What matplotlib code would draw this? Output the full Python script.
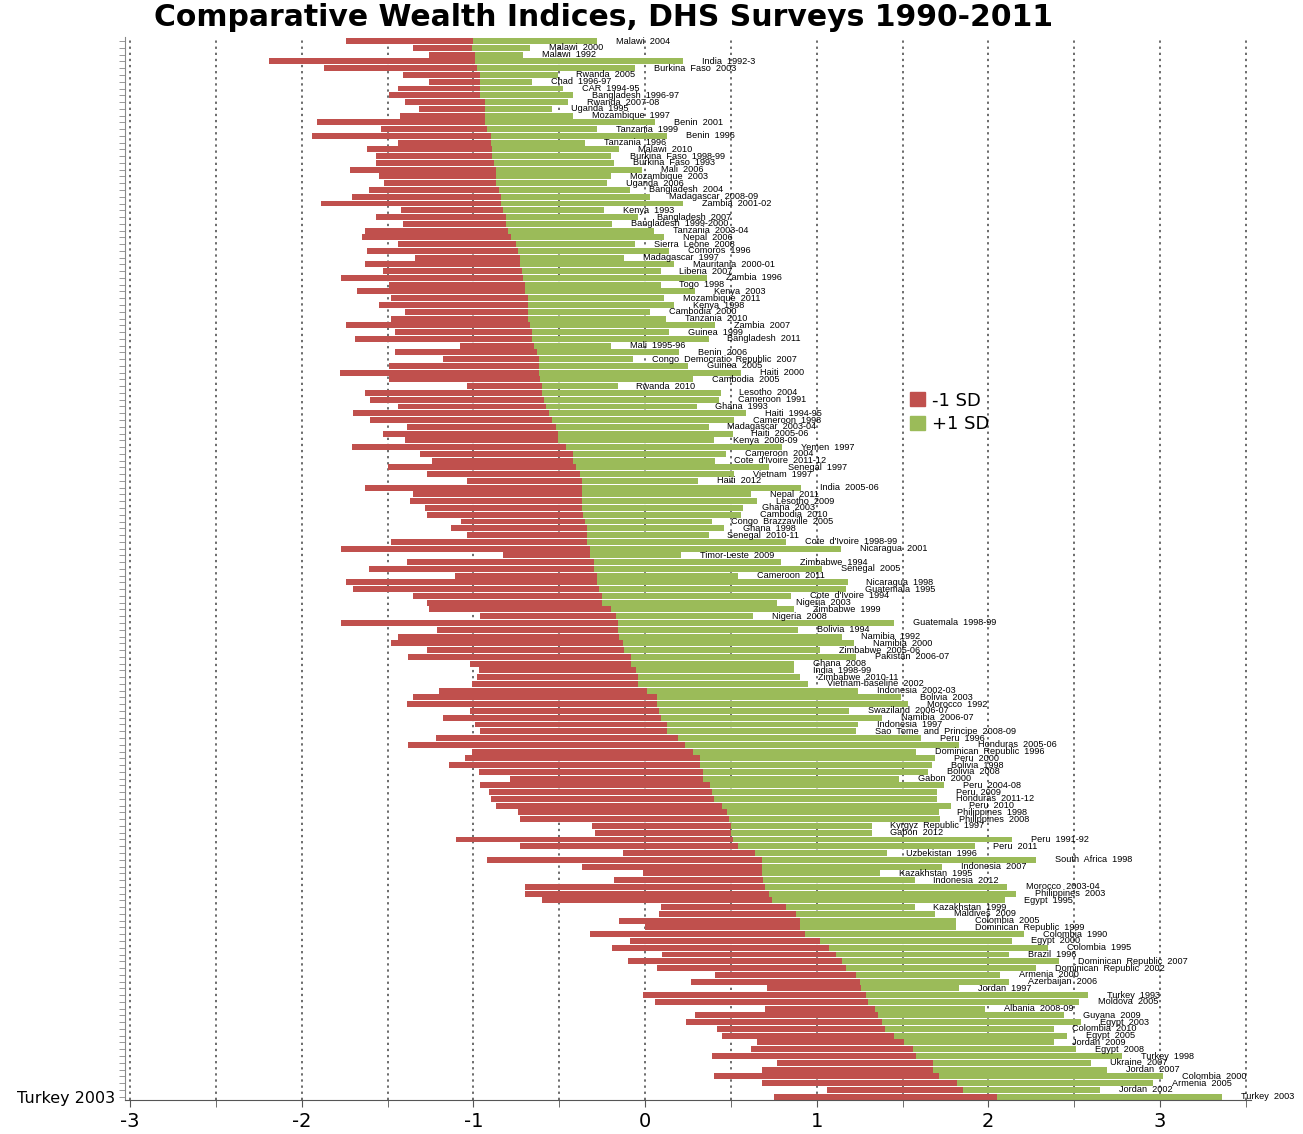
import numpy as np
import matplotlib
matplotlib.use('Agg')
import matplotlib.pyplot as plt
from matplotlib.patches import Patch

surveys = [
    'Malawi 2004', 'Malawi 2000', 'Malawi 1992', 'India 1992-3', 'Burkina Faso 2003',
    'Rwanda 2005', 'Chad 1996-97', 'CAR 1994-95', 'Bangladesh 1996-97', 'Rwanda 2007-08',
    'Uganda 1995', 'Mozambique 1997', 'Benin 2001', 'Tanzania 1999', 'Benin 1996',
    'Tanzania 1996', 'Malawi 2010', 'Burkina Faso 1998-99', 'Burkina Faso 1993', 'Mali 2006',
    'Mozambique 2003', 'Uganda 2006', 'Bangladesh 2004', 'Madagascar 2008-09', 'Zambia 2001-02',
    'Kenya 1993', 'Bangladesh 2007', 'Bangladesh 1999-2000', 'Tanzania 2003-04', 'Nepal 2006',
    'Sierra Leone 2008', 'Comoros 1996', 'Madagascar 1997', 'Mauritania 2000-01', 'Liberia 2007',
    'Zambia 1996', 'Togo 1998', 'Kenya 2003', 'Mozambique 2011', 'Kenya 1998',
    'Cambodia 2000', 'Tanzania 2010', 'Zambia 2007', 'Guinea 1999', 'Bangladesh 2011',
    'Mali 1995-96', 'Benin 2006', 'Congo Democratic Republic 2007', 'Guinea 2005', 'Haiti 2000',
    'Cambodia 2005', 'Rwanda 2010', 'Lesotho 2004', 'Cameroon 1991', 'Ghana 1993',
    'Haiti 1994-95', 'Cameroon 1998', 'Madagascar 2003-04', 'Haiti 2005-06', 'Kenya 2008-09',
    'Yemen 1997', 'Cameroon 2004', "Cote d'Ivoire 2011-12", 'Senegal 1997', 'Vietnam 1997',
    'Haiti 2012', 'India 2005-06', 'Nepal 2011', 'Lesotho 2009', 'Ghana 2003',
    'Cambodia 2010', 'Congo Brazzaville 2005', 'Ghana 1998', 'Senegal 2010-11', "Cote d'Ivoire 1998-99",
    'Nicaragua 2001', 'Timor-Leste 2009', 'Zimbabwe 1994', 'Senegal 2005', 'Cameroon 2011',
    'Nicaragua 1998', 'Guatemala 1995', "Cote d'Ivoire 1994", 'Nigeria 2003', 'Zimbabwe 1999',
    'Nigeria 2008', 'Guatemala 1998-99', 'Bolivia 1994', 'Namibia 1992', 'Namibia 2000',
    'Zimbabwe 2005-06', 'Pakistan 2006-07', 'Ghana 2008', 'India 1998-99', 'Zimbabwe 2010-11',
    'Vietnam-baseline 2002', 'Indonesia 2002-03', 'Bolivia 2003', 'Morocco 1992', 'Swaziland 2006-07',
    'Namibia 2006-07', 'Indonesia 1997', 'Sao Tome and Principe 2008-09', 'Peru 1996', 'Honduras 2005-06',
    'Dominican Republic 1996', 'Peru 2000', 'Bolivia 1998', 'Bolivia 2008', 'Gabon 2000',
    'Peru 2004-08', 'Peru 2009', 'Honduras 2011-12', 'Peru 2010', 'Philippines 1998',
    'Philippines 2008', 'Kyrgyz Republic 1997', 'Gabon 2012', 'Peru 1991-92', 'Peru 2011',
    'Uzbekistan 1996', 'South Africa 1998', 'Indonesia 2007', 'Kazakhstan 1995', 'Indonesia 2012',
    'Morocco 2003-04', 'Philippines 2003', 'Egypt 1995', 'Kazakhstan 1999', 'Maldives 2009',
    'Colombia 2005', 'Dominican Republic 1999', 'Colombia 1990', 'Egypt 2000', 'Colombia 1995',
    'Brazil 1996', 'Dominican Republic 2007', 'Dominican Republic 2002', 'Armenia 2000', 'Azerbaijan 2006',
    'Jordan 1997', 'Turkey 1993', 'Moldova 2005', 'Albania 2008-09', 'Guyana 2009',
    'Egypt 2003', 'Colombia 2010', 'Egypt 2005', 'Jordan 2009', 'Egypt 2008',
    'Turkey 1998', 'Ukraine 2007', 'Jordan 2007', 'Colombia 2000', 'Armenia 2005',
    'Jordan 2002', 'Turkey 2003',
]

minus_sd = [
    -1.74, -1.35, -1.26, -2.19, -1.87, -1.41, -1.26, -1.44, -1.49, -1.40,
    -1.32, -1.43, -1.91, -1.54, -1.94, -1.44, -1.62, -1.57, -1.57, -1.72,
    -1.55, -1.52, -1.61, -1.71, -1.89, -1.42, -1.57, -1.41, -1.63, -1.65,
    -1.44, -1.62, -1.34, -1.63, -1.53, -1.77, -1.49, -1.68, -1.48, -1.55,
    -1.40, -1.48, -1.74, -1.46, -1.69, -1.08, -1.46, -1.18, -1.49, -1.78,
    -1.49, -1.04, -1.63, -1.60, -1.44, -1.70, -1.60, -1.39, -1.53, -1.40,
    -1.71, -1.31, -1.24, -1.50, -1.27, -1.04, -1.63, -1.35, -1.37, -1.28,
    -1.27, -1.07, -1.13, -1.04, -1.48, -1.77, -0.83, -1.39, -1.61, -1.11,
    -1.74, -1.70, -1.35, -1.27, -1.26, -0.96, -1.77, -1.21, -1.44, -1.48,
    -1.27, -1.38, -1.02, -0.97, -0.98, -1.01, -1.20, -1.35, -1.39, -1.02,
    -1.18, -0.99, -0.96, -1.22, -1.38, -1.01, -1.05, -1.14, -0.97, -0.79,
    -0.96, -0.91, -0.90, -0.87, -0.74, -0.73, -0.31, -0.29, -1.10, -0.73,
    -0.13, -0.92, -0.37, -0.01, -0.18, -0.70, -0.70, -0.60, 0.09, 0.08,
    -0.15, 0.00, -0.32, -0.09, -0.19, 0.10, -0.10, 0.07, 0.41, 0.27,
    0.71, -0.01, 0.06, 0.70, 0.29, 0.24, 0.42, 0.45, 0.65, 0.62,
    0.39, 0.77, 0.68, 0.40, 0.68, 1.06, 0.75,
]

mean_val = [
    -1.00, -1.01, -0.99, -0.99, -0.98, -0.96, -0.96, -0.96, -0.96, -0.93,
    -0.93, -0.93, -0.93, -0.92, -0.90, -0.90, -0.89, -0.89, -0.88, -0.87,
    -0.87, -0.87, -0.85, -0.84, -0.84, -0.83, -0.81, -0.81, -0.80, -0.78,
    -0.75, -0.74, -0.73, -0.73, -0.72, -0.71, -0.70, -0.70, -0.68, -0.68,
    -0.68, -0.68, -0.67, -0.66, -0.66, -0.65, -0.63, -0.62, -0.62, -0.62,
    -0.61, -0.60, -0.60, -0.59, -0.58, -0.56, -0.54, -0.52, -0.51, -0.51,
    -0.46, -0.42, -0.42, -0.40, -0.38, -0.37, -0.37, -0.37, -0.37, -0.37,
    -0.36, -0.35, -0.34, -0.34, -0.34, -0.32, -0.32, -0.30, -0.30, -0.28,
    -0.28, -0.27, -0.25, -0.25, -0.20, -0.17, -0.16, -0.16, -0.15, -0.13,
    -0.12, -0.08, -0.08, -0.05, -0.04, -0.04, 0.01, 0.07, 0.07, 0.08,
    0.09, 0.13, 0.13, 0.19, 0.23, 0.28, 0.32, 0.32, 0.34, 0.34,
    0.38, 0.39, 0.40, 0.45, 0.48, 0.49, 0.50, 0.50, 0.51, 0.54,
    0.64, 0.68, 0.68, 0.68, 0.69, 0.70, 0.72, 0.74, 0.82, 0.88,
    0.90, 0.90, 0.93, 1.02, 1.07, 1.11, 1.15, 1.17, 1.23, 1.25,
    1.26, 1.29, 1.30, 1.34, 1.36, 1.38, 1.40, 1.45, 1.51, 1.56,
    1.58, 1.68, 1.68, 1.71, 1.82, 1.85, 2.05,
]

plus_sd = [
    -0.28, -0.67, -0.71, 0.22, -0.06, -0.51, -0.66, -0.48, -0.42, -0.45,
    -0.54, -0.42, 0.06, -0.28, 0.13, -0.35, -0.15, -0.20, -0.18, -0.02,
    -0.20, -0.22, -0.09, 0.03, 0.22, -0.24, -0.04, -0.19, 0.05, 0.11,
    -0.06, 0.14, -0.12, 0.17, 0.09, 0.36, 0.09, 0.29, 0.11, 0.17,
    0.03, 0.12, 0.41, 0.14, 0.37, -0.20, 0.20, -0.07, 0.25, 0.56,
    0.28, -0.16, 0.44, 0.43, 0.30, 0.59, 0.52, 0.37, 0.51, 0.40,
    0.80, 0.47, 0.41, 0.72, 0.52, 0.31, 0.91, 0.62, 0.65, 0.57,
    0.56, 0.39, 0.46, 0.37, 0.82, 1.14, 0.21, 0.79, 1.03, 0.54,
    1.18, 1.17, 0.85, 0.77, 0.87, 0.63, 1.45, 0.89, 1.15, 1.22,
    1.02, 1.23, 0.87, 0.87, 0.90, 0.95, 1.24, 1.49, 1.53, 1.19,
    1.38, 1.24, 1.23, 1.61, 1.83, 1.58, 1.69, 1.67, 1.65, 1.48,
    1.74, 1.70, 1.70, 1.78, 1.71, 1.72, 1.32, 1.32, 2.14, 1.92,
    1.41, 2.28, 1.73, 1.37, 1.57, 2.11, 2.16, 2.10, 1.57, 1.69,
    1.81, 1.81, 2.21, 2.14, 2.35, 2.12, 2.41, 2.28, 2.07, 2.12,
    1.83, 2.58, 2.53, 1.98, 2.44, 2.54, 2.38, 2.46, 2.38, 2.51,
    2.78, 2.60, 2.69, 3.02, 2.96, 2.65, 3.36,
]

red = '#C0504D'
green = '#9BBB59'

minus_sd = np.array(minus_sd)
mean_val = np.array(mean_val)
plus_sd = np.array(plus_sd)
n = len(surveys)
y = np.arange(n)

fig = plt.figure(figsize=(13.03, 11.34), dpi=100)
ax = fig.add_axes([0.096, 0.030, 0.864, 0.937])

ax.barh(y, mean_val - minus_sd, left=minus_sd, height=0.88, color=red, zorder=2)
ax.barh(y, plus_sd - mean_val, left=mean_val, height=0.88, color=green, zorder=2)

# labels sit just right of the +1 SD end
for yi, name, hi in zip(y, surveys, plus_sd):
    ax.text(hi + 0.11, yi, name.replace(' ', '  '), fontsize=6.6, family='Liberation Sans',
            va='center', ha='left', color='black', zorder=3)

ax.set_xlim(-3.03, 3.53)
ax.set_ylim(n - 0.5, -0.55)

ax.set_xticks(np.arange(-3, 3.01, 1.0))
ax.set_xticks(np.arange(-3, 3.51, 0.5), minor=True)
ax.set_xticklabels(['-3', '-2', '-1', '0', '1', '2', '3'], fontsize=14)
ax.tick_params(axis='x', which='both', direction='out', length=5, color='#555555')
ax.grid(axis='x', which='both', linestyle=(0, (1.5, 2.5)), color='#444444', linewidth=1.1, zorder=1)

ax.set_yticks(y)
ax.set_yticklabels([''] * (n - 1) + [surveys[-1]], fontsize=11.5)
ax.tick_params(axis='y', direction='out', length=4, color='#888888', width=0.6)

for side in ['top', 'right']:
    ax.spines[side].set_visible(False)
ax.spines['left'].set_color('#888888')
ax.spines['bottom'].set_color('#555555')

fig.text(0.463, 0.985, 'Comparative Wealth Indices, DHS Surveys 1990-2011', fontsize=21.5,
         fontweight='bold', ha='center', va='center')

handles = [Patch(color=red, label='-1 SD'), Patch(color=green, label='+1 SD')]
ax.legend(handles=handles, loc='upper left', bbox_to_anchor=(0.683, 0.682),
          frameon=False, fontsize=13, handlelength=0.8, handleheight=0.8,
          handletextpad=0.4, labelspacing=0.3)

fig.savefig('out.png', dpi=100)
